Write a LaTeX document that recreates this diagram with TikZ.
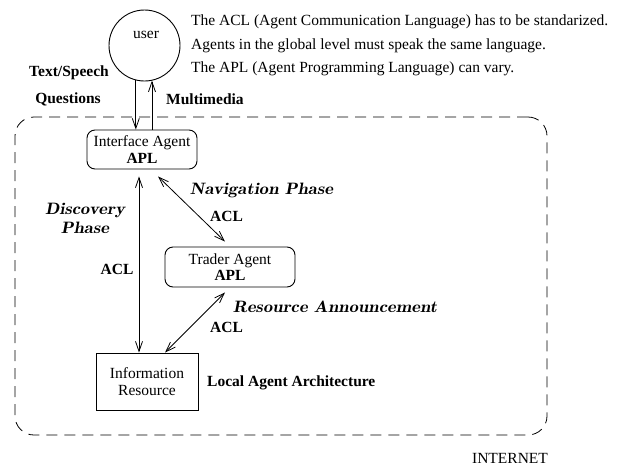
\documentclass[tikz,border=0pt]{standalone}
\usepackage[no-math]{fontspec}
\setmainfont{Liberation Serif}
\usetikzlibrary{arrows.meta}

% Latin Modern bold italic for the phase names, set a little wide
\newcommand{\phasefont}{\fontencoding{TU}\fontfamily{lmr}\fontseries{b}\fontshape{it}\selectfont}
\newcommand{\widephase}[1]{\scalebox{1.13}[1]{#1}}

\tikzset{
  txt/.style={font=\fontsize{15.5}{17}\selectfont, inner sep=0pt},
  lbl/.style={font=\fontsize{15.5}{17}\selectfont\bfseries, inner sep=0pt},
  phase/.style={font=\fontsize{16.5}{17}\selectfont\phasefont, inner sep=0pt},
  agentbox/.style={draw, line width=0.9pt, rounded corners=8pt, align=center,
    inner sep=0pt, font=\fontsize{15.5}{16.5}\selectfont},
  resbox/.style={draw, line width=0.9pt, align=center, inner sep=0pt,
    font=\fontsize{15.5}{17.5}\selectfont},
  link/.style={line width=0.8pt, -{Straight Barb[length=10pt,width=7pt]}},
  twoway/.style={line width=0.8pt,
    {Straight Barb[length=10pt,width=7pt]}-{Straight Barb[length=10pt,width=7pt]}},
  netbox/.style={draw, line width=0.8pt, dash pattern=on 11pt off 7pt,
    rounded corners=19pt, inner sep=0pt},
}

\begin{document}
\begin{tikzpicture}[x=1pt, y=-1pt]
  \useasboundingbox (0,0) rectangle (620,466);

  % network boundary
  \node[netbox, minimum width=532pt, minimum height=318pt] (net) at (281,276) {};
  \node[txt] (netname) at (510,458) {INTERNET};

  % user
  \node[draw, circle, line width=0.9pt, minimum size=71pt, inner sep=0pt] (user) at (144.5,45.5) {};
  \node[txt] (username) at (146,35) {user};

  % agents and resource
  \node[agentbox, minimum width=110pt, minimum height=39pt] (iface) at (142,149.5)
    {Interface Agent\\\textbf{APL}};
  \node[agentbox, minimum width=130pt, minimum height=40pt] (trader) at (230,267)
    {Trader Agent\\\textbf{APL}};
  \node[resbox, minimum width=102pt, minimum height=57pt] (info) at (147,381.5)
    {Information\\Resource};

  % user <-> interface agent
  \draw[link] (user.-104) -- (user.-104 |- iface.north);
  \draw[link] (iface.north -| user.-78) -- (user.-78);
  \node[lbl] (tsp) at (69,73) {Text/Speech};
  \node[lbl] (qst) at (68,99) {Questions};
  \node[lbl, anchor=west] (mm) at (166,99) {Multimedia};

  % discovery
  \coordinate (dtop) at ([xshift=-3pt,yshift=-7pt]iface.south);
  \draw[twoway] (dtop) -- (dtop |- info.north);
  \node[phase] (disc) at (85,210) {\widephase{Discovery}};
  \node[phase] (discb) at (85,228) {\widephase{Phase}};
  \node[lbl] (acl1) at (117,269) {ACL};

  % navigation
  \draw[twoway] ([xshift=16pt,yshift=-7pt]iface.south) -- ([xshift=-5pt,yshift=5pt]trader.north);
  \node[phase] (nav) at (261.5,190) {\widephase{Navigation Phase}};
  \node[lbl] (acl2) at (226.5,216) {ACL};

  % resource announcement
  \draw[twoway] ([xshift=-5pt,yshift=-5pt]trader.south) -- ([xshift=18pt]info.north);
  \node[phase] (ann) at (335,307) {\widephase{Resource Announcement}};
  \node[lbl] (acl3) at (226.5,327) {ACL};

  \node[lbl, anchor=west] (local) at (207,383) {Local Agent Architecture};

  % notes
  \node[txt, anchor=west] (n1) at (191,22) {The ACL (Agent Communication Language) has to be standarized.};
  \node[txt, anchor=west] (n2) at (191,46) {Agents in the global level must speak the same language.};
  \node[txt, anchor=west] (n3) at (191,69) {The APL (Agent Programming Language) can vary.};
\end{tikzpicture}
\end{document}
